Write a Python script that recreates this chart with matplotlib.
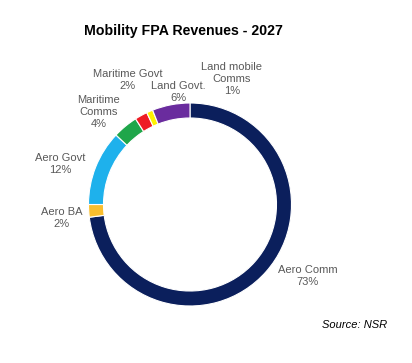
import matplotlib
matplotlib.use("Agg")
import matplotlib.pyplot as plt

categories = ["Aero Comm", "Aero BA", "Aero Govt", "Maritime\nComms", "Maritime Govt", "Land mobile\nComms", "Land Govt."]
values = [73, 2, 12, 4, 2, 1, 6]
colors = ["#0B1F5C", "#F9BE2E", "#1EB1EC", "#1FA64A", "#EE1C24", "#FFF200", "#6A2C9E"]
title = "Mobility FPA Revenues - 2027"
source = "Source: NSR"

W, H = 412, 363
fig = plt.figure(figsize=(W / 100, H / 100), dpi=100)
ax = fig.add_axes([0, 0, 1, 1])
cx, cy, R = 190, H - 204.5, 101.5
ax.pie(values, colors=colors, startangle=90, counterclock=False, radius=R,
       center=(cx, cy), frame=True,
       wedgeprops=dict(width=15, edgecolor="white", linewidth=0.8))
ax.set_xlim(0, W)
ax.set_ylim(0, H)
ax.set_aspect("equal")
ax.axis("off")

font = "Liberation Sans"
gray = "#595959"
label_pos = [(308, 276), (62, 218), (60, 164), (99, 112), (128, 80), (232, 79), (178, 92)]
for name, v, (x, y) in zip(categories, values, label_pos):
    ax.text(x, H - y, f"{name}\n{v}%", ha="center", va="center", color=gray,
            fontsize=8, family=font, linespacing=1.2)

ax.text(183, H - 31, title, ha="center", va="center", fontsize=10.2,
        fontweight="bold", family=font, color="black")
ax.text(355, H - 325, source, ha="center", va="center", fontsize=8,
        style="italic", family=font, color="black")

fig.savefig("out.png", dpi=100)
